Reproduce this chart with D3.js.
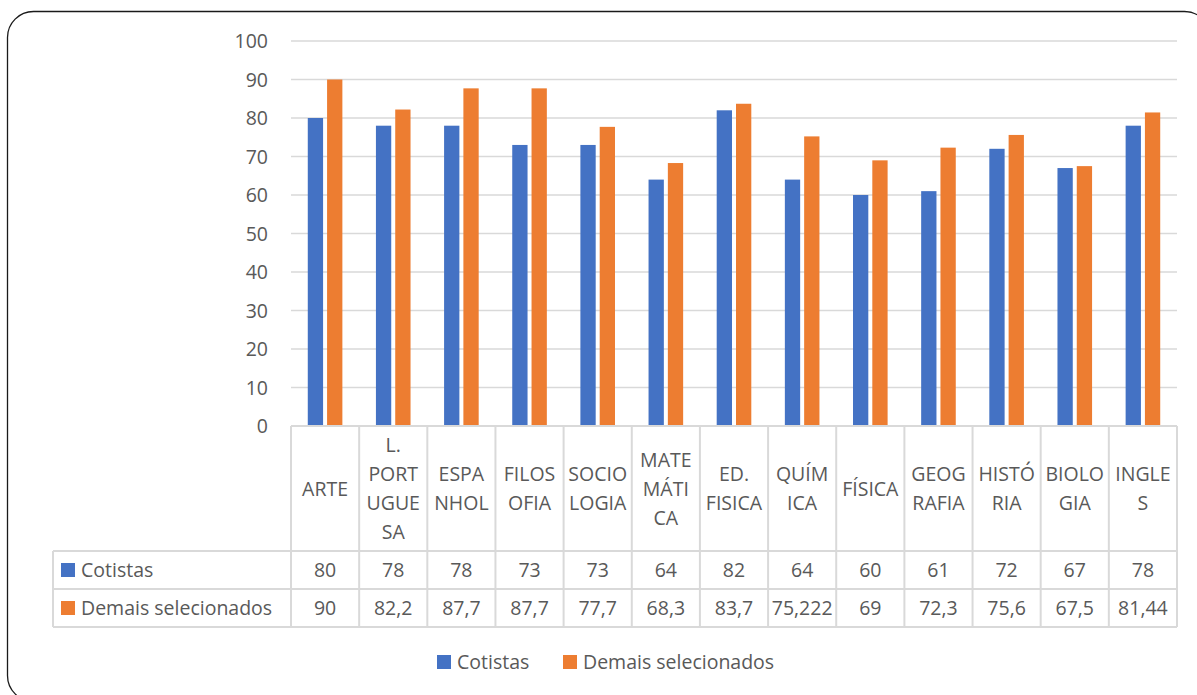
<!DOCTYPE html>
<html>
<head>
<meta charset="utf-8">
<script src="https://cdn.jsdelivr.net/npm/d3@7"></script>
<style>
  html, body { margin: 0; padding: 0; background: #fff; }
  svg { display: block; }
  text { font-family: "Open Sans", "Noto Sans", sans-serif; fill: #595959; }
</style>
</head>
<body>
<svg id="chart" width="1197" height="695"></svg>
<script>
// Subjects (with the wrapped lines used in the data table header)
const categories = ["ARTE", "L. PORTUGUESA", "ESPANHOL", "FILOSOFIA", "SOCIOLOGIA", "MATEMÁTICA",
  "ED. FISICA", "QUÍMICA", "FÍSICA", "GEOGRAFIA", "HISTÓRIA", "BIOLOGIA", "INGLES"];
const categoryLines = [["ARTE"], ["L.", "PORT", "UGUE", "SA"], ["ESPA", "NHOL"], ["FILOS", "OFIA"],
  ["SOCIO", "LOGIA"], ["MATE", "MÁTI", "CA"], ["ED.", "FISICA"], ["QUÍM", "ICA"], ["FÍSICA"],
  ["GEOG", "RAFIA"], ["HISTÓ", "RIA"], ["BIOLO", "GIA"], ["INGLE", "S"]];

const seriesNames = ["Cotistas", "Demais selecionados"];
const cotistas = [80, 78, 78, 73, 73, 64, 82, 64, 60, 61, 72, 67, 78];
const demais = [90, 82.2, 87.7, 87.7, 77.7, 68.3, 83.7, 75.222, 69, 72.3, 75.6, 67.5, 81.44];
const tableLabels = [
  ["80", "78", "78", "73", "73", "64", "82", "64", "60", "61", "72", "67", "78"],
  ["90", "82,2", "87,7", "87,7", "77,7", "68,3", "83,7", "75,222", "69", "72,3", "75,6", "67,5", "81,44"]
];
const yTicks = [0, 10, 20, 30, 40, 50, 60, 70, 80, 90, 100];
const colors = ["#4472c4", "#ed7d31"];

const svg = d3.select("#chart");
const gridColor = "#d9d9d9";
const fontSize = "19.5px";

// Outer rounded frame of the chart area
svg.append("rect")
  .attr("x", 7.5).attr("y", 11.5)
  .attr("width", 1203).attr("height", 690)
  .attr("rx", 26).attr("ry", 26)
  .attr("fill", "#fff").attr("stroke", "#1a1a1a").attr("stroke-width", 1.3);

const plotLeft = 291, plotRight = 1177, plotTop = 41, plotBottom = 426;

const x = d3.scaleBand().domain(categories).range([plotLeft, plotRight]);
const y = d3.scaleLinear().domain([0, 100]).range([plotBottom, plotTop]);
const barW = 15.3, barGap = 4;
const xSub = d3.scaleOrdinal().domain(seriesNames)
  .range([-(barW + barGap / 2), barGap / 2]);

// Horizontal gridlines
svg.append("g").selectAll("line")
  .data(yTicks.filter(d => d > 0))
  .join("line")
  .attr("x1", plotLeft).attr("x2", plotRight)
  .attr("y1", d => y(d)).attr("y2", d => y(d))
  .attr("stroke", gridColor).attr("stroke-width", 1.5);

// Y axis labels
const yAxis = d3.axisLeft(y).tickValues(yTicks).tickSize(0).tickPadding(0);
const gy = svg.append("g").attr("transform", "translate(268,0)").call(yAxis);
gy.select(".domain").remove();
gy.selectAll("text")
  .style("font-family", "'Open Sans', 'Noto Sans', sans-serif")
  .style("font-size", fontSize).attr("fill", "#595959").attr("dy", "0.35em");

// Bars
const series = [cotistas, demais];
series.forEach((vals, si) => {
  svg.append("g").selectAll("rect")
    .data(vals)
    .join("rect")
    .attr("x", (d, i) => x(categories[i]) + x.bandwidth() / 2 + xSub(seriesNames[si]))
    .attr("y", d => y(d))
    .attr("width", barW)
    .attr("height", d => y(0) - y(d))
    .attr("fill", colors[si]);
});

// Data table
const tableLeft = 53;
const rowY = [plotBottom, 551, 589, 627];
const tg = svg.append("g");
// horizontal rules
tg.append("line").attr("x1", plotLeft).attr("x2", plotRight)
  .attr("y1", rowY[0]).attr("y2", rowY[0]).attr("stroke", gridColor).attr("stroke-width", 2);
[rowY[1], rowY[2], rowY[3]].forEach(yy => {
  tg.append("line").attr("x1", tableLeft).attr("x2", plotRight)
    .attr("y1", yy).attr("y2", yy).attr("stroke", gridColor).attr("stroke-width", 2);
});
// vertical rules
const vx = categories.map(c => x(c)).concat([plotRight]);
vx.forEach(xx => {
  tg.append("line").attr("x1", xx).attr("x2", xx)
    .attr("y1", rowY[0]).attr("y2", rowY[3]).attr("stroke", gridColor).attr("stroke-width", 2);
});
tg.append("line").attr("x1", tableLeft).attr("x2", tableLeft)
  .attr("y1", rowY[1]).attr("y2", rowY[3]).attr("stroke", gridColor).attr("stroke-width", 2);

// Category header cells: one text element per wrapped line
const lineH = 29;
categories.forEach((c, i) => {
  const lines = categoryLines[i];
  const cx = x(c) + x.bandwidth() / 2;
  const cy = (rowY[0] + rowY[1]) / 2 + 0.5;
  lines.forEach((ln, k) => {
    tg.append("text").attr("text-anchor", "middle").style("font-size", fontSize)
      .attr("x", cx)
      .attr("y", cy + (k - (lines.length - 1) / 2) * lineH)
      .attr("dy", "0.35em").text(ln);
  });
});

// Series rows with keys and values
seriesNames.forEach((name, si) => {
  const cy = (rowY[si + 1] + rowY[si + 2]) / 2;
  tg.append("rect").attr("x", 61).attr("y", cy - 7).attr("width", 14).attr("height", 14)
    .attr("fill", colors[si]);
  tg.append("text").attr("x", 81).attr("y", cy).attr("dy", "0.35em")
    .style("font-size", fontSize).text(name);
  tableLabels[si].forEach((lbl, i) => {
    tg.append("text").attr("x", x(categories[i]) + x.bandwidth() / 2).attr("y", cy)
      .attr("dy", "0.35em").attr("text-anchor", "middle")
      .style("font-size", fontSize).text(lbl);
  });
});

// Legend below the table
const legendY = 662;
const lg = svg.append("g");
const items = [{ name: seriesNames[0], x: 437 }, { name: seriesNames[1], x: 563 }];
items.forEach((it, si) => {
  lg.append("rect").attr("x", it.x).attr("y", legendY - 7).attr("width", 14).attr("height", 14)
    .attr("fill", colors[si]);
  lg.append("text").attr("x", it.x + 20).attr("y", legendY).attr("dy", "0.35em")
    .style("font-size", fontSize).text(it.name);
});
</script>
</body>
</html>
